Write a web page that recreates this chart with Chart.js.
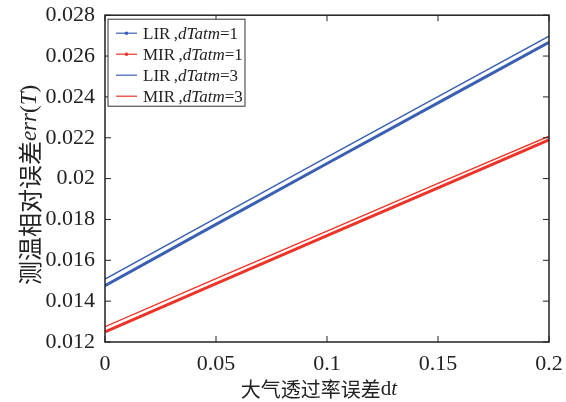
<!DOCTYPE html>
<html>
<head>
<meta charset="utf-8">
<script src="https://cdn.jsdelivr.net/npm/chart.js@4/dist/chart.umd.min.js"></script>
<style>
  html, body { margin: 0; padding: 0; background: #fff; }
  #wrap { width: 566px; height: 402px; position: relative; }
</style>
</head>
<body>
<div id="wrap"><canvas id="chart"></canvas></div>
<script>
// values
const dt = [0, 0.05, 0.1, 0.15, 0.2];
const lirT1 = [0.01476, 0.01776, 0.02074, 0.02371, 0.02667];
const mirT1 = [0.01250, 0.01486, 0.01721, 0.01955, 0.0219];
const lirT3 = [0.01508, 0.01807, 0.02105, 0.02401, 0.02697];
const mirT3 = [0.01275, 0.01510, 0.01743, 0.01977, 0.02208];
const seriesNames = [['LIR', '1'], ['MIR', '1'], ['LIR', '3'], ['MIR', '3']];

const blue = '#3a60b4';
const red = '#ee3428';
const serif = '"Liberation Serif", "DejaVu Serif", serif';
const cjk = '"Noto Sans CJK SC", sans-serif';

const pts = (ys) => ys.map((y, i) => ({ x: dt[i], y }));
const fmt = (v) => Number(v.toFixed(3)).toString();

// draws a run of [text, font] pieces starting at x
function drawRuns(ctx, runs, x, y) {
  runs.forEach(([t, f]) => {
    ctx.font = f;
    ctx.fillText(t, x, y);
    x += ctx.measureText(t).width;
  });
  return x;
}
function runsWidth(ctx, runs) {
  return runs.reduce((w, [t, f]) => { ctx.font = f; return w + ctx.measureText(t).width; }, 0);
}

const decor = {
  id: 'decor',
  afterDraw(chart) {
    const { ctx, chartArea: a, scales } = chart;
    ctx.save();
    // frame
    ctx.strokeStyle = '#222';
    ctx.lineWidth = 1.5;
    ctx.strokeRect(a.left, a.top, a.right - a.left, a.bottom - a.top);
    // inner ticks on all sides
    ctx.lineWidth = 1;
    scales.x.ticks.forEach(t => {
      const px = scales.x.getPixelForValue(t.value);
      ctx.beginPath();
      ctx.moveTo(px, a.bottom); ctx.lineTo(px, a.bottom - 6);
      ctx.moveTo(px, a.top); ctx.lineTo(px, a.top + 6);
      ctx.stroke();
    });
    scales.y.ticks.forEach(t => {
      const py = scales.y.getPixelForValue(t.value);
      ctx.beginPath();
      ctx.moveTo(a.left, py); ctx.lineTo(a.left + 6, py);
      ctx.moveTo(a.right, py); ctx.lineTo(a.right - 6, py);
      ctx.stroke();
    });

    // legend
    const lx = a.left + 3, ly = a.top + 4, lw = 137, lh = 87;
    ctx.fillStyle = '#fff';
    ctx.fillRect(lx, ly, lw, lh);
    ctx.strokeStyle = '#333';
    ctx.lineWidth = 1;
    ctx.strokeRect(lx, ly, lw, lh);
    ctx.textBaseline = 'middle';
    chart.data.datasets.forEach((ds, i) => {
      const cy = ly + 14 + i * 21;
      ctx.strokeStyle = ds.borderColor;
      ctx.lineWidth = 1.2;
      ctx.beginPath();
      ctx.moveTo(lx + 8, cy); ctx.lineTo(lx + 29, cy);
      ctx.stroke();
      if (ds.legendDot) {
        ctx.fillStyle = ds.borderColor;
        ctx.beginPath();
        ctx.arc(lx + 18.5, cy, 1.8, 0, Math.PI * 2);
        ctx.fill();
      }
      ctx.fillStyle = '#222';
      const [name, t] = seriesNames[i];
      drawRuns(ctx, [
        [name + '\u2009,', '17px ' + serif],
        ['dTatm', 'italic 17px ' + serif],
        ['=' + t, '17px ' + serif]
      ], lx + 35, cy + 1);
    });

    // x title
    const xRuns = [['大气透过率误差', '20px ' + cjk], ['d', '21px ' + serif], ['t', 'italic 21px ' + serif]];
    const xw = runsWidth(ctx, xRuns);
    ctx.fillStyle = '#222';
    drawRuns(ctx, xRuns, (a.left + a.right) / 2 - xw / 2 - 8, 389);

    // y title
    const yRuns = [['测温相对误差', '24px ' + cjk], ['err', 'italic 23px ' + serif], ['(', '23px ' + serif], ['T', 'italic 23px ' + serif], [')', '23px ' + serif]];
    const yw = runsWidth(ctx, yRuns);
    ctx.translate(30, 185);
    ctx.rotate(-Math.PI / 2);
    drawRuns(ctx, yRuns, -yw / 2, 0);
    ctx.restore();
  }
};

new Chart(document.getElementById('chart'), {
  type: 'line',
  data: {
    datasets: [
      { label: 'LIR,dTatm=1', data: pts(lirT1), borderColor: blue, borderWidth: 3, legendDot: true },
      { label: 'MIR,dTatm=1', data: pts(mirT1), borderColor: red, borderWidth: 3, legendDot: true },
      { label: 'LIR,dTatm=3', data: pts(lirT3), borderColor: blue, borderWidth: 1.4 },
      { label: 'MIR,dTatm=3', data: pts(mirT3), borderColor: red, borderWidth: 1.4 }
    ]
  },
  options: {
    responsive: true,
    maintainAspectRatio: false,
    animation: false,
    layout: { padding: { left: 0, top: 9, right: 17, bottom: 0 } },
    elements: { point: { radius: 0 }, line: { tension: 0 } },
    plugins: { legend: { display: false }, tooltip: { enabled: false } },
    scales: {
      x: {
        type: 'linear',
        min: 0,
        max: 0.2,
        afterFit: (s) => { s.height = 60; },
        grid: { display: false },
        border: { display: false },
        ticks: { stepSize: 0.05, color: '#222', padding: 1, maxRotation: 0, font: { family: serif, size: 22 }, callback: fmt }
      },
      y: {
        min: 0.012,
        max: 0.028,
        afterFit: (s) => { s.width = 105; },
        grid: { display: false },
        border: { display: false },
        ticks: { stepSize: 0.002, color: '#222', padding: 2, font: { family: serif, size: 22 }, callback: fmt }
      }
    }
  },
  plugins: [decor]
});
</script>
</body>
</html>
